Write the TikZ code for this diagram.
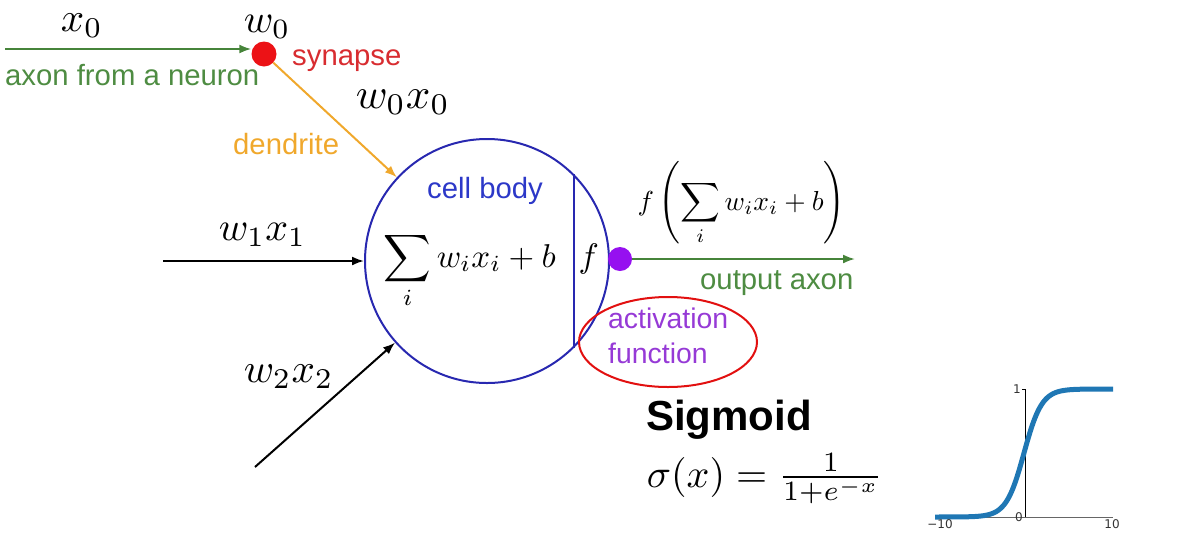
\documentclass[tikz,border=0pt]{standalone}
\usepackage{fontspec}
\newfontfamily\labfont{Liberation Sans}
\newfontfamily\plotfont{DejaVu Sans}
\usetikzlibrary{arrows.meta,shapes.geometric}
\definecolor{axgreen}{RGB}{70,132,58}
\definecolor{txgreen}{RGB}{78,140,66}
\definecolor{dotred}{RGB}{236,18,22}
\definecolor{txred}{RGB}{216,44,48}
\definecolor{dorange}{RGB}{240,168,44}
\definecolor{cellblue}{RGB}{40,40,176}
\definecolor{txblue}{RGB}{44,56,200}
\definecolor{dotpurple}{RGB}{150,16,240}
\definecolor{txpurple}{RGB}{150,58,214}
\definecolor{ellred}{RGB}{226,16,16}
\definecolor{mplblue}{RGB}{31,119,180}
\tikzset{
  lab/.style={font=\labfont\fontsize{29.3}{31}\selectfont, inner sep=0, anchor=base west},
  actlab/.style={lab, font=\labfont\fontsize{28.4}{30}\selectfont, text=txpurple},
  mth/.style={inner sep=0, anchor=base west, scale=#1},
  arr/.style={-{Latex[length=12,width=9]}, line width=2},
  dot/.style={circle, inner sep=0, minimum size=#1},
  plotlab/.style={font=\plotfont\fontsize{12}{13}\selectfont, inner sep=0, text=black!80},
}
\begin{document}
\begin{tikzpicture}[x=1pt,y=-1pt]
\useasboundingbox (0,0) rectangle (1184,547);
% cell body
\node[circle, draw=cellblue, line width=2, minimum size=244, inner sep=0] (cell) at (487,261) {};
\draw[cellblue, line width=2] (cell.45.8) -- (cell.-45.8);
% synapse and input axon
\node[dot=25, fill=dotred] (syn) at (264,54) {};
\coordinate (a0) at (5,49);
\draw[arr, axgreen] (a0) -- (a0 -| syn.west);
\draw[arr, dorange] (syn) -- (cell);
% other inputs
\coordinate (i1) at (163,261);
\coordinate (i2) at (255,467);
\draw[arr, black] (i1) -- (cell);
\draw[arr, black] (i2) -- (cell);
% output
\node[dot=24, fill=dotpurple] (act) at (620,259) {};
\coordinate (out) at (855,259);
\draw[arr, axgreen] (act) -- (out);
% activation ellipse
\node[ellipse, draw=ellred, line width=2, minimum width=178, minimum height=90, inner sep=0] (ell) at (668,342) {};
% text labels
\node[lab, text=txgreen] (tax) at (5,85) {axon from a neuron};
\node[lab, text=txred] (tsyn) at (292,65) {synapse};
\node[lab, text=dorange] (tden) at (233,154) {dendrite};
\node[lab, text=txblue] (tcell) at (427,198) {cell body};
\node[lab, text=txgreen] (tout) at (700,289) {output axon};
\node[actlab] (tact) at (608,328) {activation};
\node[actlab] (tfun) at (608,363) {function};
\node[lab, font=\labfont\bfseries\fontsize{42}{44}\selectfont] (tsig) at (646,430) {Sigmoid};
% math labels
\node[mth=4.1] (mx0) at (60,31) {$x_0$};
\node[mth=4.0] (mw0) at (243,32) {$w_0$};
\node[mth=4.3] (mw0x0) at (355,108) {$w_0x_0$};
\node[mth=4.0] (mw1x1) at (218,240) {$w_1x_1$};
\node[mth=4.1] (mw2x2) at (243,382) {$w_2x_2$};
\node[mth=3.3] (msum) at (383,267) {$\displaystyle\sum_i w_ix_i+b$};
\node[mth=3.4] (mf) at (578,267) {$f$};
\node[mth=2.75] (mout) at (637,210) {$f\left(\displaystyle\sum_i w_ix_i+b\right)$};
\node[mth=4.0] (msig) at (646,487) {$\sigma(x)=\frac{1}{1+e^{-x}}$};
% sigmoid plot
\coordinate (o) at (1025,517);
\coordinate (ytop) at (1025,389);
\coordinate (xl) at (935,517);
\coordinate (xr) at (1113,517);
\draw[black!60, line width=0.8] (xl) -- (xr);
\draw[black, line width=0.9] (o) -- (ytop);
\draw[black, line width=0.8] (ytop) -- ++(-3,0);
\draw[mplblue, line width=5] plot[domain=-10:10, samples=120, smooth]
  ({1024+8.9*\x},{517-128*(exp(\x/2)/(exp(\x/2)+exp(-\x/2)))});
\node[plotlab, anchor=east] (l1) at (1021,389) {1};
\node[plotlab, anchor=east] (l0) at (1023,517) {0};
\node[plotlab, anchor=north] (lm10) at (940,519) {−10};
\node[plotlab, anchor=north] (l10) at (1112,519) {10};
\end{tikzpicture}
\end{document}
